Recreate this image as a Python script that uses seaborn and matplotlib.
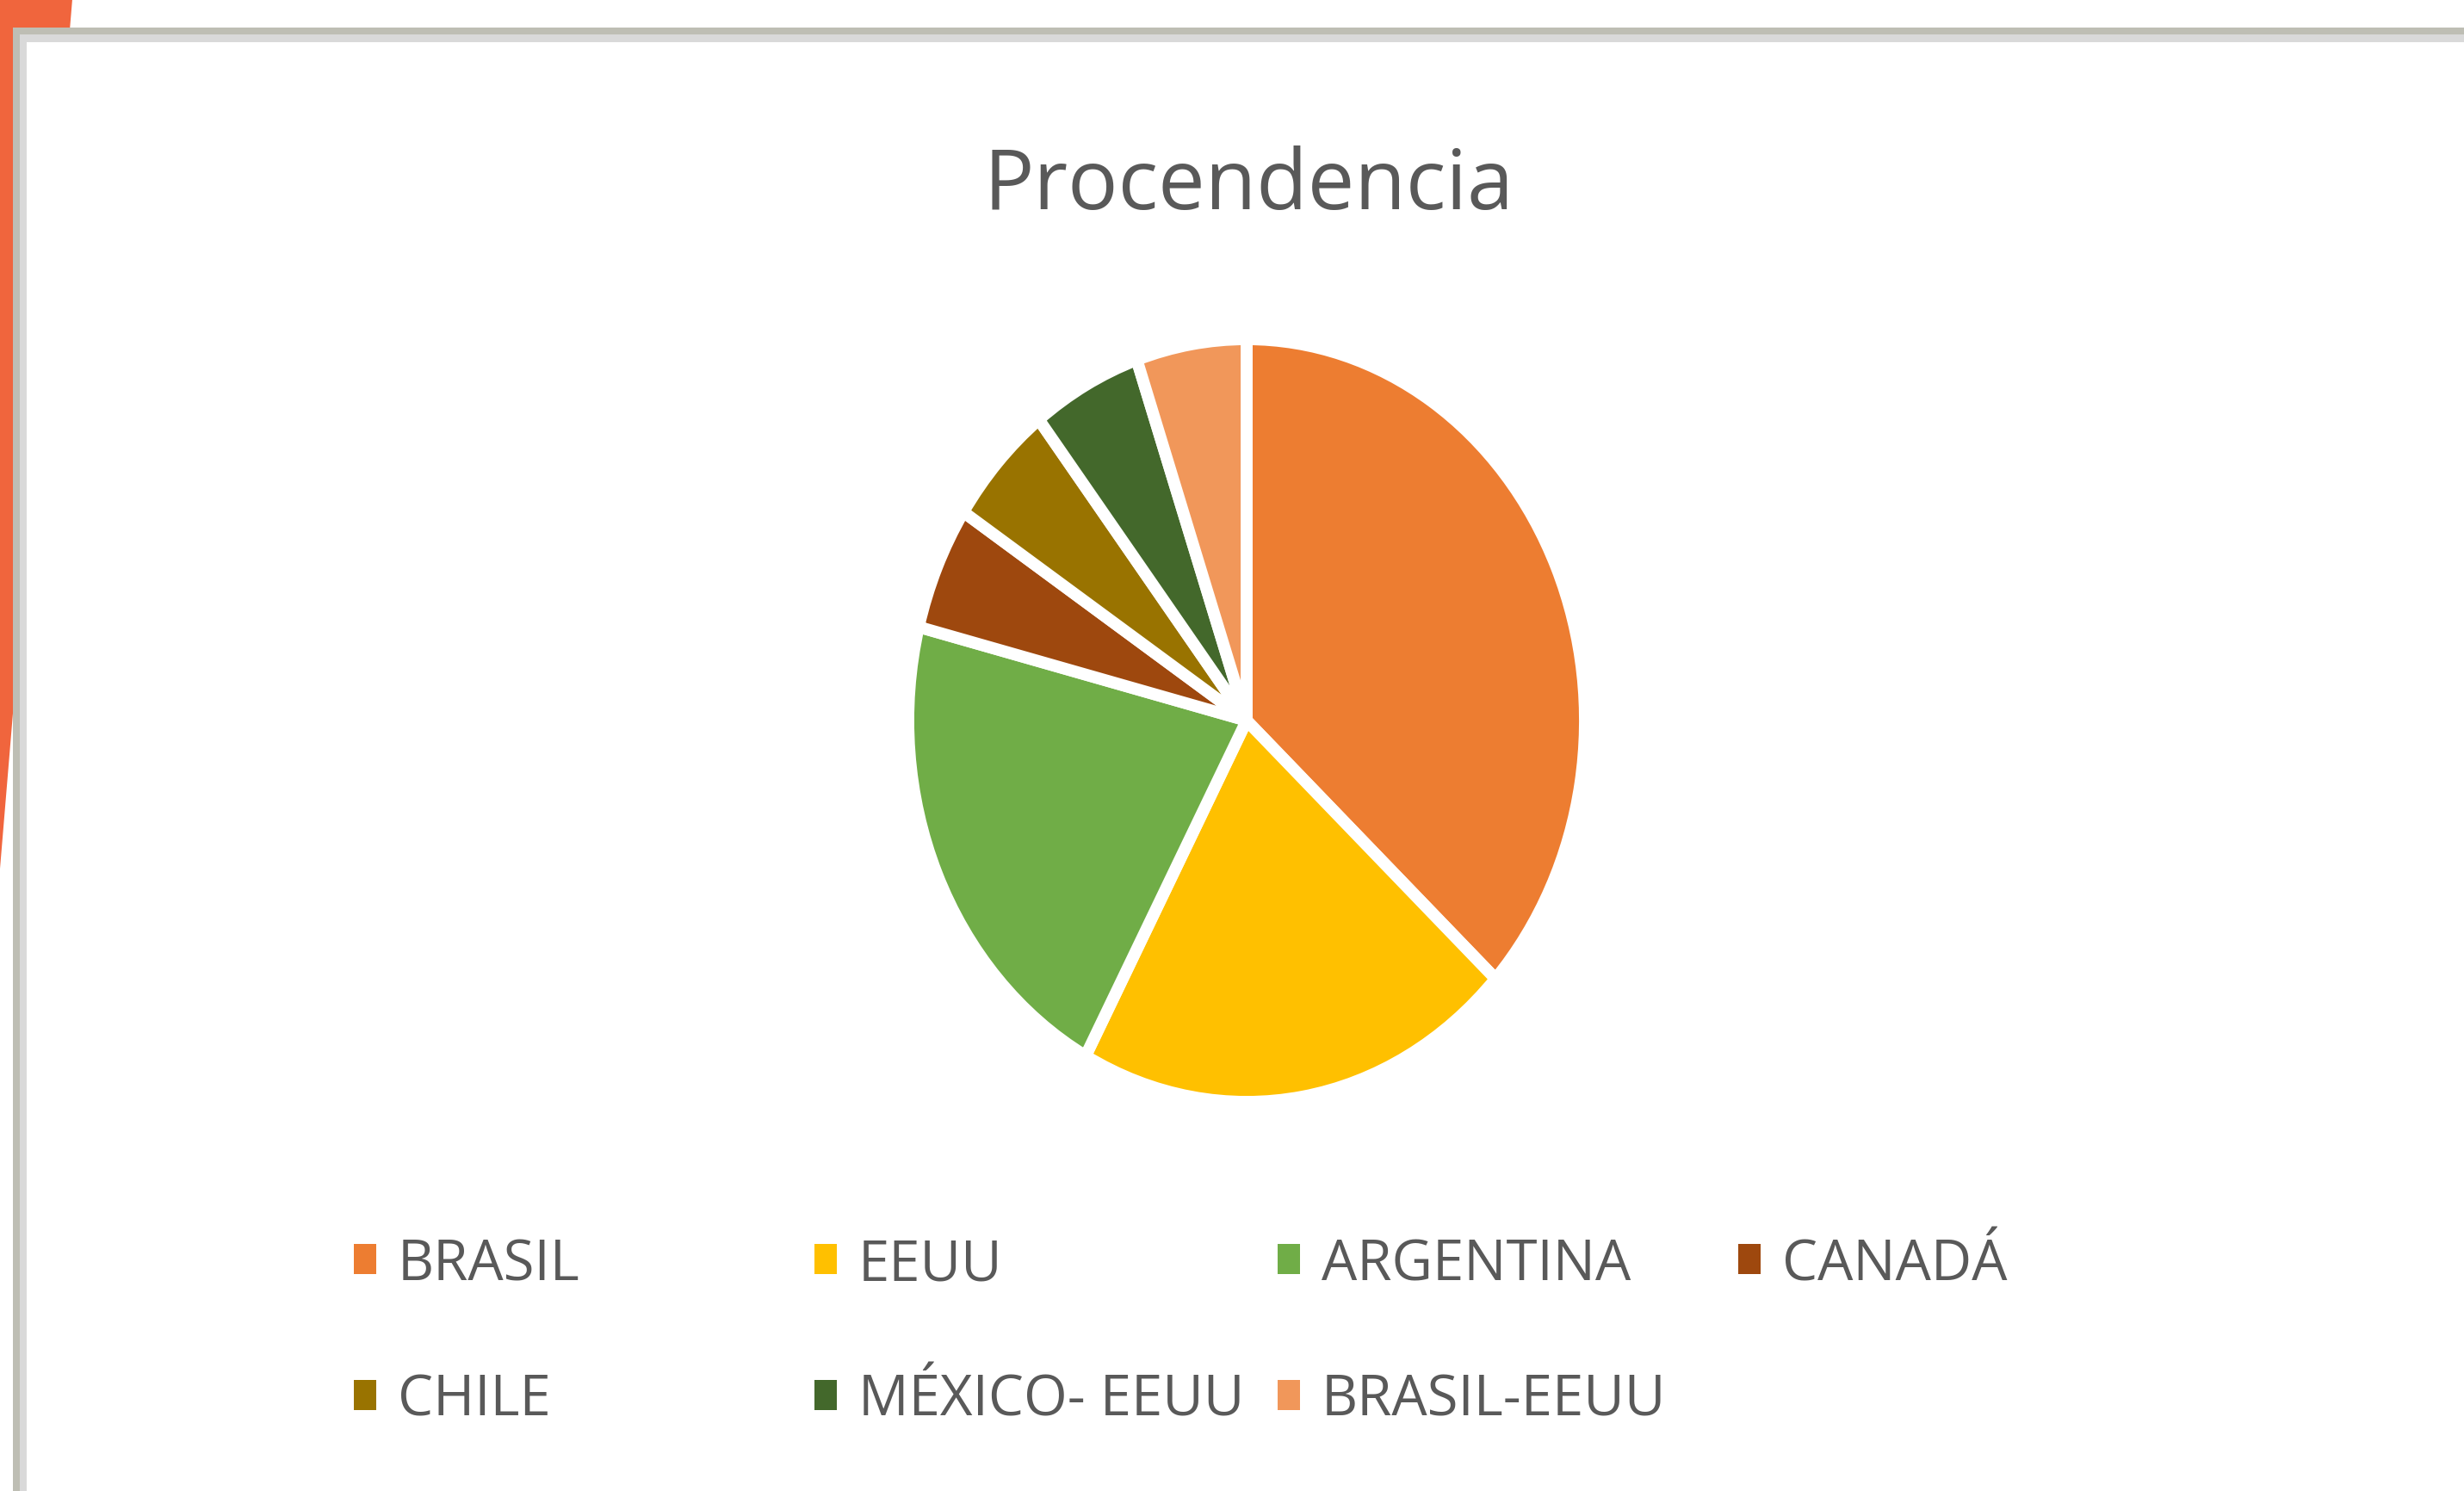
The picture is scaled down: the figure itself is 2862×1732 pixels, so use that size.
import matplotlib
matplotlib.use("Agg")
import matplotlib.pyplot as plt
import seaborn as sns
from matplotlib.patches import Patch, Rectangle, Polygon

# ---- data ----
categories = ["BRASIL", "EEUU", "ARGENTINA", "CANADÁ", "CHILE", "MÉXICO- EEUU", "BRASIL-EEUU"]
values = [7, 4, 4, 1, 1, 1, 1]
colors_hex = ["#ED7D31", "#FFC000", "#70AD47", "#9E480E", "#997300", "#43682B", "#F1975A"]
title_text = "Procendencia"

sns.set_theme(style="white")
plt.rcParams["font.family"] = ["Open Sans", "DejaVu Sans"]

W, H = 2862, 1733
DPI = 100
fig = plt.figure(figsize=(W / DPI, H / DPI), dpi=DPI)
fig.patch.set_facecolor("white")

def fx(px):
    return px / W

def fy(py):
    return 1 - py / H

# ---- slide background / frame ----
fig.patches.append(Polygon([(fx(0), fy(0)), (fx(84), fy(0)), (fx(0), fy(1010))],
                           closed=True, transform=fig.transFigure,
                           facecolor="#F0653D", edgecolor="none", zorder=0))
fig.patches.append(Rectangle((fx(15), 0), fx(W) - fx(15), fy(33), transform=fig.transFigure,
                             facecolor="#BEBEB4", edgecolor="none", zorder=1))
fig.patches.append(Rectangle((fx(23), 0), fx(W) - fx(23), fy(41), transform=fig.transFigure,
                             facecolor="#D9D9D9", edgecolor="none", zorder=2))
fig.patches.append(Rectangle((fx(31), 0), fx(W) - fx(31), fy(50), transform=fig.transFigure,
                             facecolor="white", edgecolor="none", zorder=3))

# ---- pie ----
cx, cy, rx, ry = 1448, 838, 393, 443
ax = fig.add_axes([fx(cx - rx), fy(cy + ry), (2 * rx) / W, (2 * ry) / H])
ax.set_zorder(5)
ax.set_facecolor("none")
palette = sns.color_palette(colors_hex)
wedges, _ = ax.pie(values, colors=palette, startangle=90, counterclock=False,
                   wedgeprops=dict(edgecolor="white", linewidth=10, joinstyle="round"))
for w in wedges:
    w.set_clip_on(False)
ax.set_aspect("auto")
ax.set_xlim(-1, 1)
ax.set_ylim(-1, 1)
ax.axis("off")

# ---- title ----
fig.text(fx(1450), fy(243), title_text, ha="center", va="baseline",
         fontsize=70, color="#595959", zorder=10)

# ---- legend ----
col_x = [411, 946, 1484, 2019]
row_y = [1470, 1628]
fs = 47
for i, (lab, col) in enumerate(zip(categories, palette)):
    r, c = divmod(i, 4)
    leg = fig.legend(handles=[Patch(facecolor=col, edgecolor="none")], labels=[lab],
                     loc="center left", bbox_to_anchor=(fx(col_x[c]), fy(row_y[r])),
                     bbox_transform=fig.transFigure, frameon=False, fontsize=fs,
                     handlelength=0.40, handleheight=0.44, handletextpad=0.38,
                     borderpad=0, borderaxespad=0)
    leg.set_zorder(10)
    for t in leg.get_texts():
        t.set_color("#595959")

fig.savefig("out.png", dpi=DPI, facecolor="white")
